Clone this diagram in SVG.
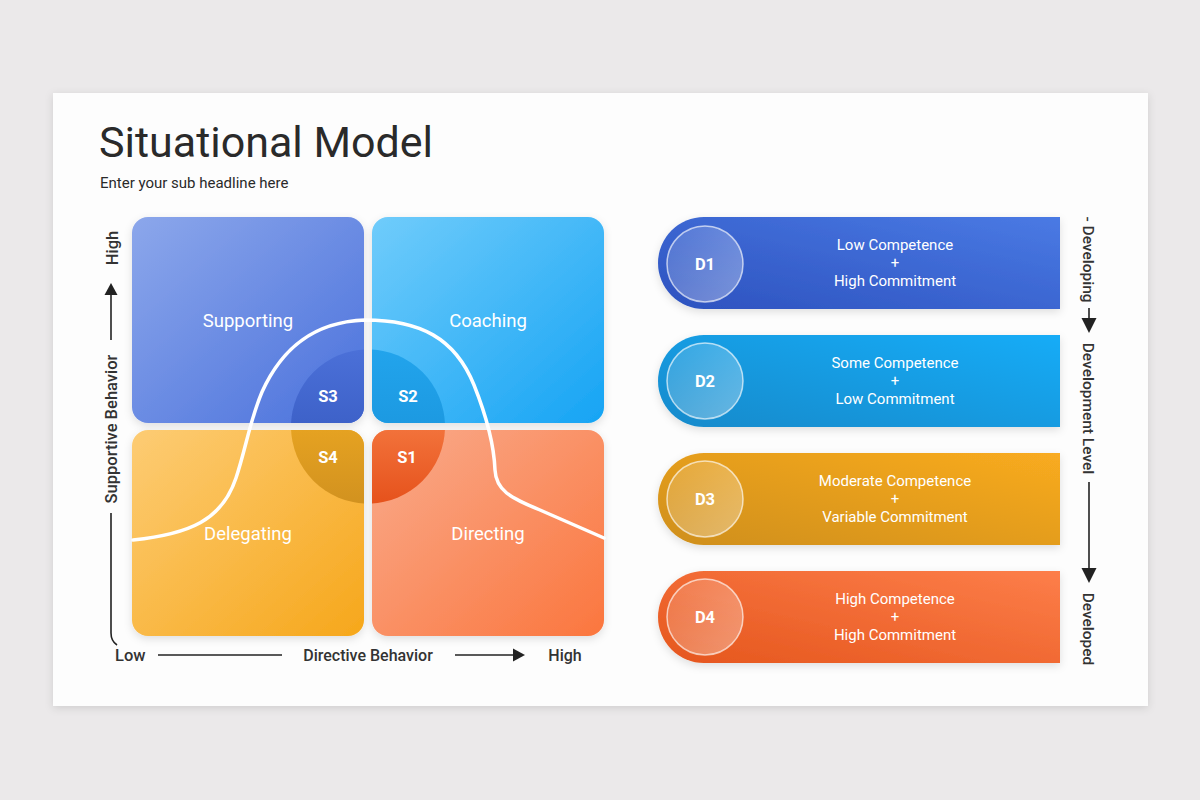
<svg xmlns="http://www.w3.org/2000/svg" width="1200" height="800" viewBox="0 0 1200 800">
<defs>
<style>
.t{font-family:Roboto,"Liberation Sans",Arial,sans-serif;}
.title{font-size:43px;fill:#2a2a2a;}
.sub{font-size:15px;fill:#2a2a2a;}
.ql{font-size:18.5px;fill:#ffffff;text-anchor:middle;}
.sl{font-size:16.5px;fill:#ffffff;font-weight:700;text-anchor:middle;}
.dl{font-size:16.5px;fill:#ffffff;font-weight:700;text-anchor:middle;}
.bt{font-size:15px;fill:#ffffff;text-anchor:middle;}
.ax{font-size:16.5px;fill:#333333;font-weight:500;}
.axr{font-size:15.5px;fill:#333333;font-weight:500;text-anchor:middle;}
.axm{font-size:16px;fill:#333333;font-weight:500;text-anchor:middle;}
.line{stroke:#222;stroke-width:1.6;fill:none;}
.head{fill:#222;}
.ring{fill:url(#ringFill);stroke:#ffffff;stroke-opacity:0.65;stroke-width:1.5;}
</style>
<filter id="cardSh" x="-5%" y="-5%" width="110%" height="115%">
<feDropShadow dx="0" dy="2" stdDeviation="4" flood-color="#000" flood-opacity="0.12"/>
</filter>
<filter id="sh" x="-10%" y="-10%" width="120%" height="130%">
<feDropShadow dx="0" dy="3" stdDeviation="4" flood-color="#000" flood-opacity="0.12"/>
</filter>
<linearGradient id="gTL" x1="0" y1="0" x2="1" y2="1"><stop offset="0" stop-color="#8ca7eb"/><stop offset="1" stop-color="#4a71dc"/></linearGradient>
<linearGradient id="gTR" x1="0" y1="0" x2="1" y2="1"><stop offset="0" stop-color="#70ccfb"/><stop offset="1" stop-color="#16a4f4"/></linearGradient>
<linearGradient id="gBL" x1="0" y1="0" x2="1" y2="1"><stop offset="0" stop-color="#fdcc74"/><stop offset="1" stop-color="#f6a71b"/></linearGradient>
<linearGradient id="gBR" x1="0" y1="0" x2="1" y2="1"><stop offset="0" stop-color="#f9ab8c"/><stop offset="1" stop-color="#fb763e"/></linearGradient>
<linearGradient id="cS3" gradientUnits="userSpaceOnUse" x1="0" y1="350" x2="0" y2="503"><stop offset="0" stop-color="#4b70d8"/><stop offset="1" stop-color="#2f52b8"/></linearGradient>
<linearGradient id="cS2" gradientUnits="userSpaceOnUse" x1="0" y1="350" x2="0" y2="503"><stop offset="0" stop-color="#22a4ec"/><stop offset="1" stop-color="#168ed6"/></linearGradient>
<linearGradient id="cS4" gradientUnits="userSpaceOnUse" x1="0" y1="350" x2="0" y2="503"><stop offset="0.4" stop-color="#eaa622"/><stop offset="1" stop-color="#d2921f"/></linearGradient>
<linearGradient id="cS1" gradientUnits="userSpaceOnUse" x1="0" y1="350" x2="0" y2="503"><stop offset="0.4" stop-color="#f57a42"/><stop offset="1" stop-color="#e6521c"/></linearGradient>
<linearGradient id="gD1" x1="0" y1="1" x2="1" y2="0"><stop offset="0" stop-color="#2d52bf"/><stop offset="1" stop-color="#4a7ae4"/></linearGradient>
<linearGradient id="gD2" x1="0" y1="1" x2="1" y2="0"><stop offset="0" stop-color="#168acb"/><stop offset="1" stop-color="#16acf7"/></linearGradient>
<linearGradient id="gD3" x1="0" y1="1" x2="1" y2="0"><stop offset="0" stop-color="#cf8f1a"/><stop offset="1" stop-color="#f9ab20"/></linearGradient>
<linearGradient id="gD4" x1="0" y1="1" x2="1" y2="0"><stop offset="0" stop-color="#e5561d"/><stop offset="1" stop-color="#fd7e4a"/></linearGradient>
<linearGradient id="ringFill" x1="0" y1="0" x2="1" y2="1"><stop offset="0" stop-color="#ffffff" stop-opacity="0.12"/><stop offset="1" stop-color="#ffffff" stop-opacity="0.35"/></linearGradient>
<clipPath id="clTL"><rect x="132" y="217" width="232" height="206" rx="16"/></clipPath>
<clipPath id="clTR"><rect x="372" y="217" width="232" height="206" rx="16"/></clipPath>
<clipPath id="clBL"><rect x="132" y="430" width="232" height="206" rx="16"/></clipPath>
<clipPath id="clBR"><rect x="372" y="430" width="232" height="206" rx="16"/></clipPath>
</defs>

<rect x="0" y="0" width="1200" height="800" fill="#ebe9ea"/>
<rect x="53" y="93" width="1095" height="613" fill="#fdfdfd" filter="url(#cardSh)"/>

<g id="title">
<text class="t title" x="99" y="157">Situational Model</text>
<text class="t sub" x="100" y="188">Enter your sub headline here</text>
</g>

<g id="q-supporting">
<rect x="132" y="217" width="232" height="206" rx="16" fill="url(#gTL)" filter="url(#sh)"/>
<circle cx="368" cy="426.5" r="77" fill="url(#cS3)" clip-path="url(#clTL)"/>
<text class="t ql" x="248" y="327">Supporting</text>
</g>
<g id="q-coaching">
<rect x="372" y="217" width="232" height="206" rx="16" fill="url(#gTR)" filter="url(#sh)"/>
<circle cx="368" cy="426.5" r="77" fill="url(#cS2)" clip-path="url(#clTR)"/>
<text class="t ql" x="488" y="327">Coaching</text>
</g>
<g id="q-delegating">
<rect x="132" y="430" width="232" height="206" rx="16" fill="url(#gBL)" filter="url(#sh)"/>
<circle cx="368" cy="426.5" r="77" fill="url(#cS4)" clip-path="url(#clBL)"/>
<text class="t ql" x="248" y="540">Delegating</text>
</g>
<g id="q-directing">
<rect x="372" y="430" width="232" height="206" rx="16" fill="url(#gBR)" filter="url(#sh)"/>
<circle cx="368" cy="426.5" r="77" fill="url(#cS1)" clip-path="url(#clBR)"/>
<text class="t ql" x="488" y="540">Directing</text>
</g>

<g id="curve">
<path d="M133,540 C190,534 222,520 236,478 C246,448 250,420 262,392 C280,352 310,322 365,320 C420,320 455,338 474,385 C488,420 494,445 495,470 C496,490 510,498 540,510 C570,523 590,532 604,538" fill="none" stroke="#ffffff" stroke-width="3.5" stroke-linecap="round"/>
</g>

<g id="s-labels">
<text class="t sl" x="328" y="402">S3</text>
<text class="t sl" x="408" y="402">S2</text>
<text class="t sl" x="328" y="463">S4</text>
<text class="t sl" x="407" y="463">S1</text>
</g>

<g id="connectors">
<path class="line" d="M111,340 L111,292"/>
<polygon class="head" points="111,283 104.5,295 117.5,295"/>
<path class="line" d="M111,513 L111,633 Q111,641 117,645"/>
<path class="line" d="M158,655 L282,655"/>
<path class="line" d="M455,655 L515,655"/>
<polygon class="head" points="525,655 513,648.5 513,661.5"/>
<path class="line" d="M1089,308 L1089,320"/>
<polygon class="head" points="1089,333 1081.5,318 1096.5,318"/>
<path class="line" d="M1089,482 L1089,570"/>
<polygon class="head" points="1089,583 1081.5,568 1096.5,568"/>
</g>

<g id="axis-labels">
<text class="t ax" transform="translate(118,248) rotate(-90)" text-anchor="middle">High</text>
<text class="t ax" transform="translate(117,429) rotate(-90)" text-anchor="middle">Supportive Behavior</text>
<text class="t ax" x="115" y="661">Low</text>
<text class="t axm" x="368" y="661">Directive Behavior</text>
<text class="t axm" x="565" y="661">High</text>
<text class="t axr" transform="translate(1083,259.5) rotate(90)">- Developing</text>
<text class="t axr" transform="translate(1083,408.5) rotate(90)">Development Level</text>
<text class="t axr" transform="translate(1083,629) rotate(90)">Developed</text>
</g>

<g id="d1">
<path d="M1060,217 L704,217 A46,46 0 0 0 704,309 L1060,309 Z" fill="url(#gD1)" filter="url(#sh)"/>
<circle class="ring" cx="705" cy="264" r="38"/>
<text class="t dl" x="705" y="270">D1</text>
<text class="t bt" x="895" y="250">Low Competence</text>
<text class="t bt" x="895" y="268">+</text>
<text class="t bt" x="895" y="286">High Commitment</text>
</g>
<g id="d2">
<path d="M1060,335 L704,335 A46,46 0 0 0 704,427 L1060,427 Z" fill="url(#gD2)" filter="url(#sh)"/>
<circle class="ring" cx="705" cy="381" r="38"/>
<text class="t dl" x="705" y="387">D2</text>
<text class="t bt" x="895" y="368">Some Competence</text>
<text class="t bt" x="895" y="386">+</text>
<text class="t bt" x="895" y="404">Low Commitment</text>
</g>
<g id="d3">
<path d="M1060,453 L704,453 A46,46 0 0 0 704,545 L1060,545 Z" fill="url(#gD3)" filter="url(#sh)"/>
<circle class="ring" cx="705" cy="499" r="38"/>
<text class="t dl" x="705" y="505">D3</text>
<text class="t bt" x="895" y="486">Moderate Competence</text>
<text class="t bt" x="895" y="504">+</text>
<text class="t bt" x="895" y="522">Variable Commitment</text>
</g>
<g id="d4">
<path d="M1060,571 L704,571 A46,46 0 0 0 704,663 L1060,663 Z" fill="url(#gD4)" filter="url(#sh)"/>
<circle class="ring" cx="705" cy="617" r="38"/>
<text class="t dl" x="705" y="623">D4</text>
<text class="t bt" x="895" y="604">High Competence</text>
<text class="t bt" x="895" y="622">+</text>
<text class="t bt" x="895" y="640">High Commitment</text>
</g>
</svg>
